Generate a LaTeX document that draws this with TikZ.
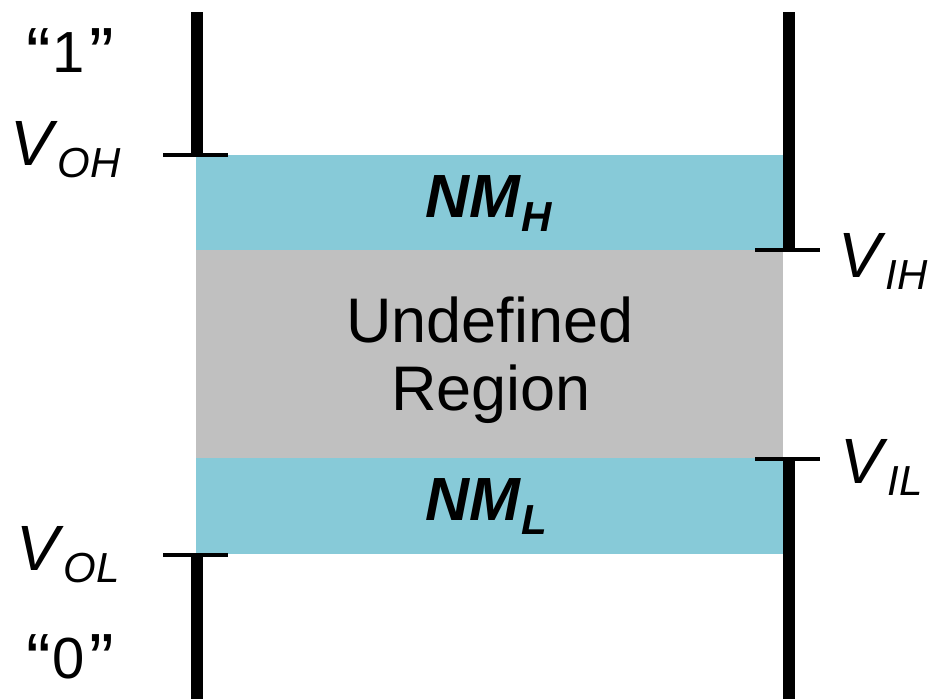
\documentclass[tikz,border=0pt]{standalone}
\usepackage{fontspec}
\setmainfont{Liberation Sans}
\definecolor{nmblue}{RGB}{135,202,216}
\definecolor{undefgray}{RGB}{192,192,192}
% italic voltage symbol with a lowered italic subscript
\newcommand{\vsym}[2]{\textit{#1}\raisebox{-12pt}{\fontsize{42}{42}\selectfont\textit{#2}}}
% bold italic noise-margin symbol with a lowered subscript
\newcommand{\nmsym}[1]{\textbf{\textit{NM}}\raisebox{-14pt}{\fontsize{42}{42}\selectfont\textbf{\textit{#1}}}}
% logic level in large quotation marks
\newcommand{\qmark}[1]{\raisebox{-7pt}{\fontsize{74}{74}\selectfont#1}}
\newcommand{\levelsym}[1]{\qmark{“}\kern2pt#1\kern4pt\qmark{”}}
\begin{document}
\begin{tikzpicture}[x=1pt,y=-1pt,
  rail/.style={line width=12pt},
  tickmark/.style={line width=4.5pt},
  lbl/.style={inner sep=0pt, anchor=base west, font=\fontsize{64}{68}\selectfont},
  mid/.style={inner sep=0pt, anchor=base, font=\fontsize{63}{68}\selectfont},
  quote/.style={inner sep=0pt, anchor=base, font=\fontsize{58}{64}\selectfont},
]
\useasboundingbox (0,0) rectangle (932,699);

% bands
\fill[nmblue]    (196,155) rectangle (783,250);
\fill[undefgray] (196,250) rectangle (783,458);
\fill[nmblue]    (196,458) rectangle (783,554);

% output rail (left)
\coordinate (otop) at (197,12);
\coordinate (ooh)  at (197,155);
\coordinate (ool)  at (197,555);
\coordinate (obot) at (197,699);
\draw[rail] (otop) -- (ooh);
\draw[rail] (ool) -- (obot);
\draw[tickmark] (163,155) -- (228,155);
\draw[tickmark] (163,555) -- (228,555);

% input rail (right)
\coordinate (itop) at (789,12);
\coordinate (iih)  at (789,250);
\coordinate (iil)  at (789,459);
\coordinate (ibot) at (789,699);
\draw[rail] (itop) -- (iih);
\draw[rail] (iil) -- (ibot);
\draw[tickmark] (755,250) -- (820,250);
\draw[tickmark] (755,459) -- (820,459);

% labels
\node[quote] (one)  at (70,72)  {\levelsym{1}};
\node[quote] (zero) at (70,678) {\levelsym{0}};
\node[lbl] (voh) at (10,165) {\vsym{V}{OH}};
\node[lbl] (vol) at (16,570) {\vsym{V}{OL}};
\node[lbl] (vih) at (838,277) {\vsym{V}{IH}};
\node[lbl] (vil) at (840,483) {\vsym{V}{IL}};

\node[lbl, font=\fontsize{61}{66}\selectfont] (nmh) at (425,217) {\nmsym{H}};
\node[lbl, font=\fontsize{61}{66}\selectfont] (nml) at (425,520) {\nmsym{L}};

\node[mid] (undef)  at (490,342) {Undefined};
\node[mid] (region) at (491,410) {Region};
\end{tikzpicture}
\end{document}
